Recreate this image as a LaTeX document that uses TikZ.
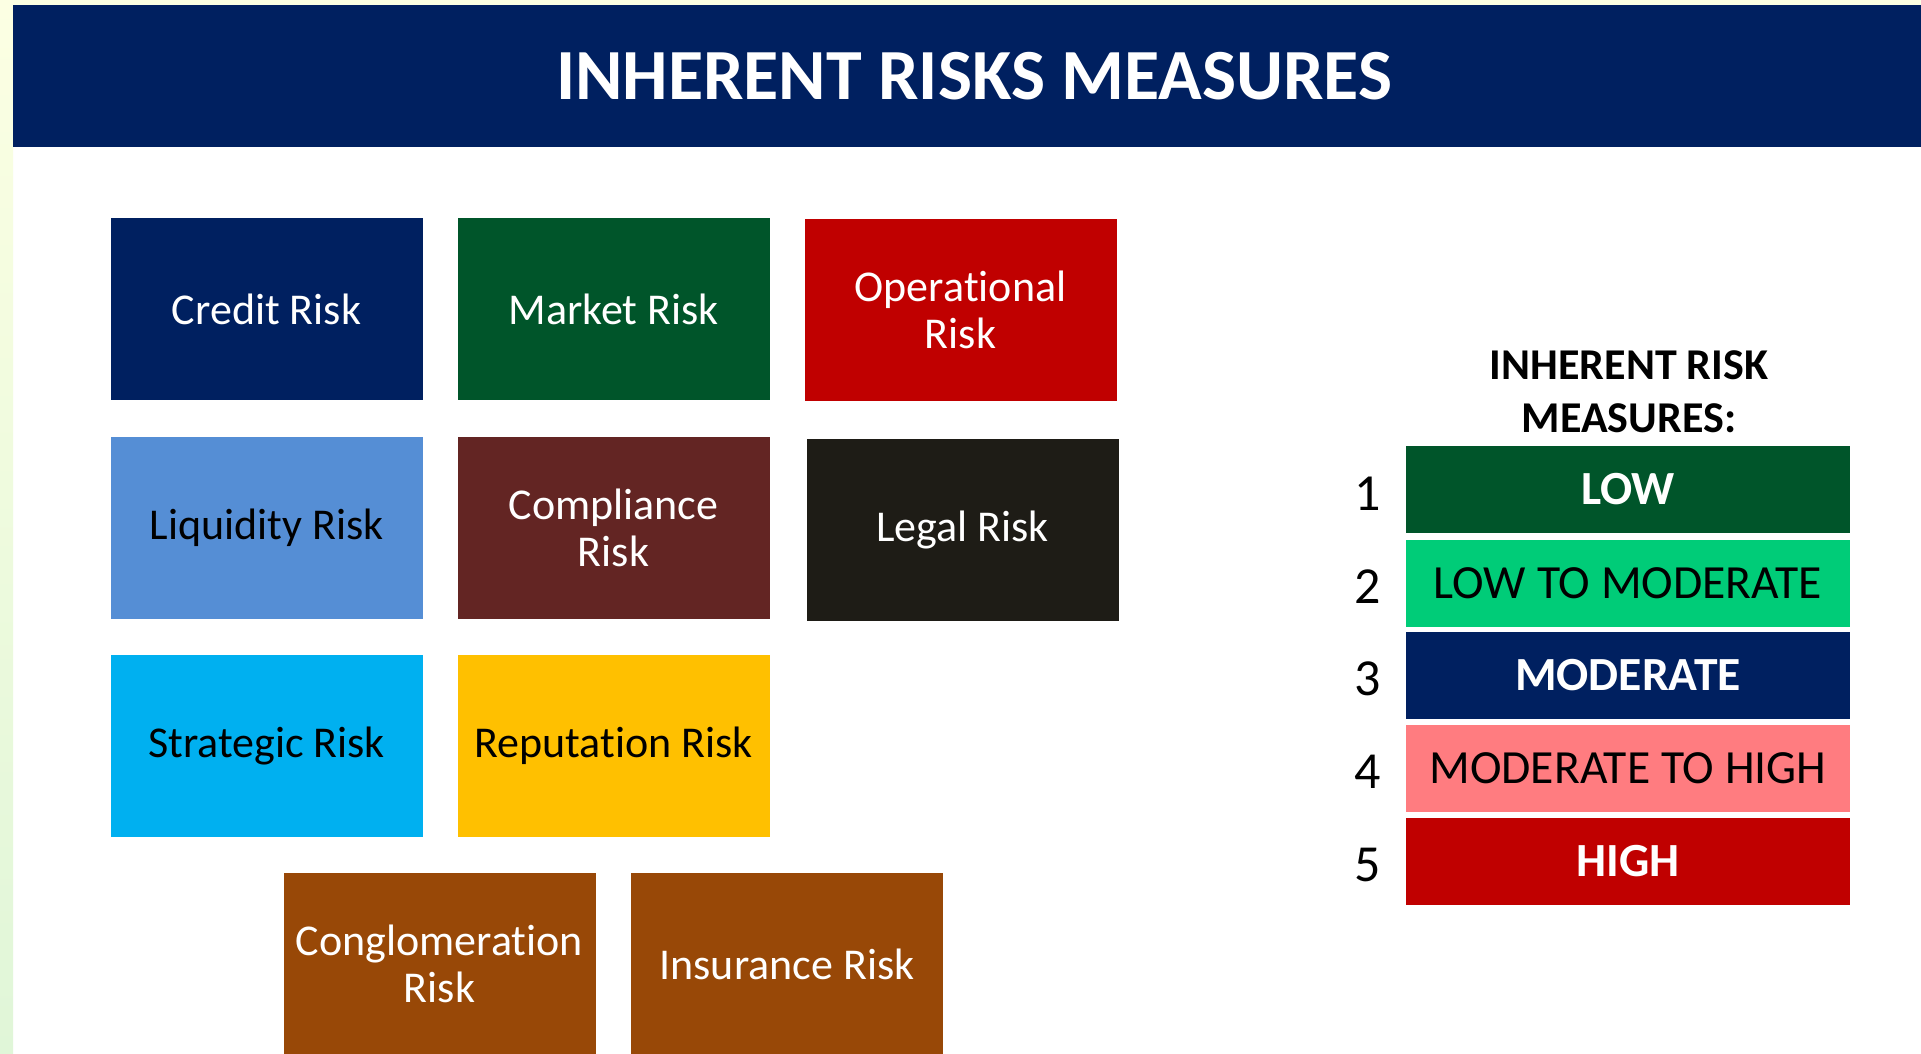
\documentclass[tikz,border=0pt]{standalone}
\usepackage{fontspec}
\setmainfont[Ligatures=NoCommon]{Carlito}
\usetikzlibrary{positioning}

\definecolor{navy}{HTML}{002060}
\definecolor{marketgreen}{HTML}{00552A}
\definecolor{opred}{HTML}{C00000}
\definecolor{liqblue}{HTML}{558ED5}
\definecolor{compbrown}{HTML}{632523}
\definecolor{legalblack}{HTML}{1E1C16}
\definecolor{stratblue}{HTML}{00B0F0}
\definecolor{repyellow}{HTML}{FFC000}
\definecolor{conbrown}{HTML}{984807}
\definecolor{mintgreen}{HTML}{00CC78}
\definecolor{salmon}{HTML}{FF7C80}
\definecolor{edgeyellow}{HTML}{FCFFE3}
\definecolor{edgegreen}{HTML}{E0F6D8}

\begin{document}
\begin{tikzpicture}[x=0.5pt,y=-0.5pt,
	riskbox/.style={minimum width=156pt,minimum height=91pt,inner sep=0pt,align=center,text=white,font=\fontsize{22}{23.5}\selectfont},
	levelbar/.style={minimum width=222pt,minimum height=43.5pt,inner sep=0pt,font=\fontsize{23.8}{26}\selectfont},
	levelnum/.style={inner sep=0pt,font=\fontsize{26}{28}\selectfont}]
	\useasboundingbox (0,0) rectangle (1921,1054);
	\clip (0,0) rectangle (1921,1054);
	\fill[white] (0,0) rectangle (1921,1054);
	\fill[edgeyellow] (0,0) rectangle (1921,5);
	\shade[top color=edgeyellow,bottom color=edgegreen] (0,0) rectangle (13,1054);

	% title band
	\node[fill=navy,minimum width=961pt,minimum height=71pt,inner sep=0pt,text=white,font=\bfseries\fontsize{36}{40}\selectfont] (header) at (974,76) {INHERENT RISKS MEASURES};

	% risk boxes
	\node[riskbox,fill=navy] (credit) at (266.5,309) {Credit Risk};
	\node[riskbox,fill=marketgreen] (market) at (613.5,309) {Market Risk};
	\node[riskbox,fill=opred] (operational) at (960.5,310) {Operational\\Risk};
	\node[riskbox,fill=liqblue,text=black] (liquidity) at (266.5,528) {Liquidity Risk};
	\node[riskbox,fill=compbrown] (compliance) at (613.5,528) {Compliance\\Risk};
	\node[riskbox,fill=legalblack] (legal) at (962.5,530) {Legal Risk};
	\node[riskbox,fill=stratblue,text=black] (strategic) at (266.5,746) {Strategic Risk};
	\node[riskbox,fill=repyellow,text=black] (reputation) at (613.5,746) {Reputation Risk};
	\node[riskbox,fill=conbrown] (conglomeration) at (439.5,964) {Conglomeration\\Risk};
	\node[riskbox,fill=conbrown] (insurance) at (787,964) {Insurance Risk};

	% measures legend
	\node[align=center,font=\bfseries\fontsize{22}{26.5}\selectfont] (legendtitle) at (1629,392) {INHERENT RISK\\MEASURES:};
	\node[levelbar,fill=marketgreen,text=white] (low) at (1628,489.5) {\bfseries LOW};
	\node[levelbar,fill=mintgreen] (lowmod) at (1628,583) {LOW TO MODERATE};
	\node[levelbar,fill=navy,text=white] (moderate) at (1628,675) {\bfseries MODERATE};
	\node[levelbar,fill=salmon] (modhigh) at (1628,768) {MODERATE TO HIGH};
	\node[levelbar,fill=opred,text=white] (high) at (1628,861) {\bfseries HIGH};
	\node[levelnum,left=12pt of low,yshift=-2pt] (n1) {1};
	\node[levelnum,left=12pt of lowmod,yshift=-2pt] (n2) {2};
	\node[levelnum,left=12pt of moderate,yshift=-2pt] (n3) {3};
	\node[levelnum,left=12pt of modhigh,yshift=-2pt] (n4) {4};
	\node[levelnum,left=12pt of high,yshift=-2pt] (n5) {5};
\end{tikzpicture}
\end{document}
